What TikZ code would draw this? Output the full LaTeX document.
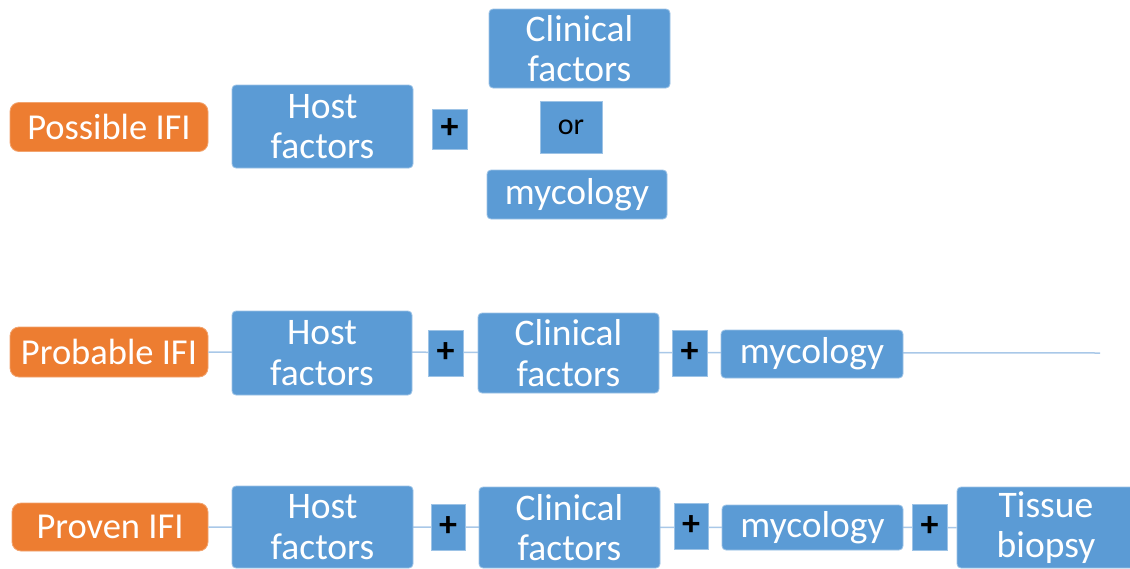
\documentclass[tikz,border=0pt]{standalone}
\usepackage{fontspec}
\setmainfont{Carlito}
\definecolor{cblue}{HTML}{5B9BD5}
\definecolor{corange}{HTML}{ED7D31}
\definecolor{cline}{HTML}{A9C8E8}
\begin{document}
\begin{tikzpicture}[x=1pt,y=-1pt,
  bx/.style={fill=cblue, draw=cblue!60!white, line width=0.8pt, rounded corners=4pt, text=white, align=center, inner sep=0pt, font=\fontsize{37.5}{40.5}\selectfont},
  lbl/.style={fill=corange, draw=corange!70!white, line width=0.8pt, rounded corners=9pt, text=white, align=center, inner sep=0pt, font=\fontsize{36.5}{38}\selectfont},
  plusbox/.style={fill=cblue, draw=cblue!60!white, line width=0.8pt, text=black, inner sep=0pt, font=\fontsize{36}{38}\selectfont\bfseries},
  orbox/.style={fill=cblue, draw=cblue!60!white, line width=0.8pt, text=black, inner sep=0pt, font=\fontsize{30}{32}\selectfont},
  conn/.style={draw=cline, line width=1.5pt}]
\useasboundingbox (0,0) rectangle (1130,568);
\fill[white] (0,0) rectangle (1130,568);
% Row 1
\node[lbl, minimum width=198, minimum height=49] (pos) at (109,127) {Possible IFI};
\node[bx, minimum width=181, minimum height=83] (host1) at (322.5,126.5) {Host\\factors};
\node[plusbox, minimum width=35, minimum height=40] (plus1) at (449.5,129) {+};
\node[bx, minimum width=181, minimum height=79] (clin1) at (579.5,48.5) {Clinical\\factors};
\node[orbox, minimum width=62, minimum height=52] (or1) at (571,127) {or};
\node[bx, minimum width=180, minimum height=49] (myc1) at (577,194.5) {mycology};
% Row 2
\coordinate (end2) at (1100,353);
\node[lbl, minimum width=198, minimum height=50] (prob) at (109,352) {Probable IFI};
\draw[conn] (prob.east) -- (end2);
\node[bx, minimum width=180, minimum height=84] (host2) at (322,353) {Host\\factors};
\node[plusbox, minimum width=35, minimum height=46] (plus2a) at (445.5,353) {+};
\node[bx, minimum width=181, minimum height=80] (clin2) at (568.5,353) {Clinical\\factors};
\node[plusbox, minimum width=35, minimum height=46] (plus2b) at (689.5,353) {+};
\node[bx, minimum width=182, minimum height=48] (myc2) at (812,354) {mycology};
% Row 3
\node[lbl, minimum width=196, minimum height=48] (prov) at (110,527) {Proven IFI};
\node[bx, minimum width=178, minimum height=81] (tissue) at (1046,527.5) {Tissue\\biopsy};
\draw[conn] (prov.east) -- (tissue.west);
\node[bx, minimum width=181, minimum height=82] (host3) at (322.5,527) {Host\\factors};
\node[plusbox, minimum width=34, minimum height=46] (plus3a) at (448,527) {+};
\node[bx, minimum width=181, minimum height=81] (clin3) at (569.5,527.5) {Clinical\\factors};
\node[plusbox, minimum width=34, minimum height=46] (plus3b) at (691,526) {+};
\node[bx, minimum width=181, minimum height=45] (myc3) at (812.5,527.5) {mycology};
\node[plusbox, minimum width=35, minimum height=46] (plus3c) at (929.5,527) {+};
\end{tikzpicture}
\end{document}
